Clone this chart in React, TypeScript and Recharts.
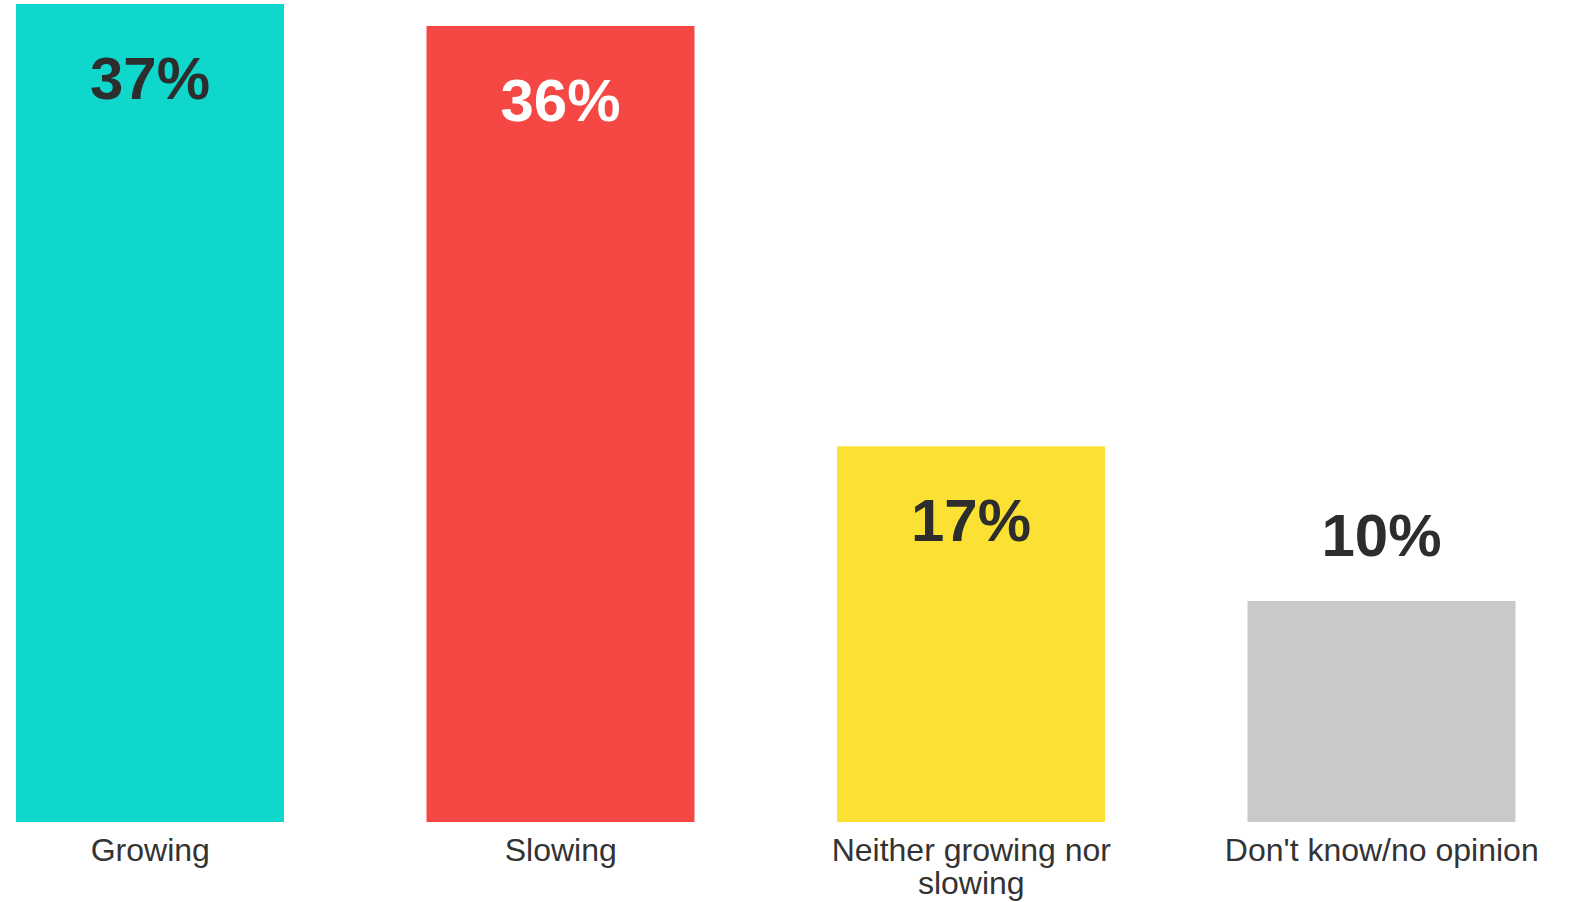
import React from 'react';
import { BarChart, Bar, XAxis, YAxis, Cell, LabelList } from 'recharts';

const categories = ['Growing', 'Slowing', 'Neither growing nor slowing', "Don't know/no opinion"];
const shares = [37, 36, 17, 10];

const BAR_COLORS = ['#0fd7cc', '#f54845', '#fce135', '#c9c9c9'];
const LABEL_COLORS = ['#2d2d2d', '#ffffff', '#2d2d2d', '#2d2d2d'];
const FONT = '"Liberation Sans", Arial, Helvetica, sans-serif';

const data = categories.map((name, i) => ({ name, value: shares[i] }));

// break a label into lines of at most maxChars characters
const wrapWords = (label: string, maxChars: number) => {
  const lines: string[] = [];
  let cur = '';
  label.split(' ').forEach((w) => {
    const next = cur ? `${cur} ${w}` : w;
    if (next.length > maxChars && cur) {
      lines.push(cur);
      cur = w;
    } else {
      cur = next;
    }
  });
  if (cur) lines.push(cur);
  return lines;
};

const CategoryTick = (props: any) => {
  const { x, y, payload } = props;
  const lines = wrapWords(String(payload.value), 21);
  return (
    <text x={x} y={y} textAnchor="middle" fontSize={32} fontFamily={FONT} fill="#333333">
      {lines.map((line, i) => (
        <tspan key={i} x={x} dy={i === 0 ? 31 : 32.5}>
          {line}
        </tspan>
      ))}
    </text>
  );
};

// big percentage: inside the bar when there is room, above it otherwise
const ValueLabel = (props: any) => {
  const { x, y, width, value, index } = props;
  const inside = value >= 15;
  return (
    <text
      x={x + width / 2}
      y={inside ? y + 95 : y - 45}
      textAnchor="middle"
      fontSize={60}
      fontWeight="bold"
      fontFamily={FONT}
      fill={LABEL_COLORS[index]}
    >
      {`${value}%`}
    </text>
  );
};

export default function App() {
  return (
    <div style={{ position: 'absolute', left: 0, top: 0, width: 1569, height: 902, background: '#fff' }}>
      <BarChart
        width={1569}
        height={902}
        data={data}
        margin={{ top: 4, right: -18, left: -55, bottom: 0 }}
        barCategoryGap={72}
      >
        <XAxis
          dataKey="name"
          axisLine={false}
          tickLine={false}
          height={80}
          interval={0}
          tick={<CategoryTick />}
        />
        <YAxis hide domain={[0, 37]} width={0} />
        <Bar dataKey="value" barSize={268} isAnimationActive={false}>
          {data.map((d, i) => (
            <Cell key={d.name} fill={BAR_COLORS[i]} />
          ))}
          <LabelList dataKey="value" content={<ValueLabel />} />
        </Bar>
      </BarChart>
    </div>
  );
}
